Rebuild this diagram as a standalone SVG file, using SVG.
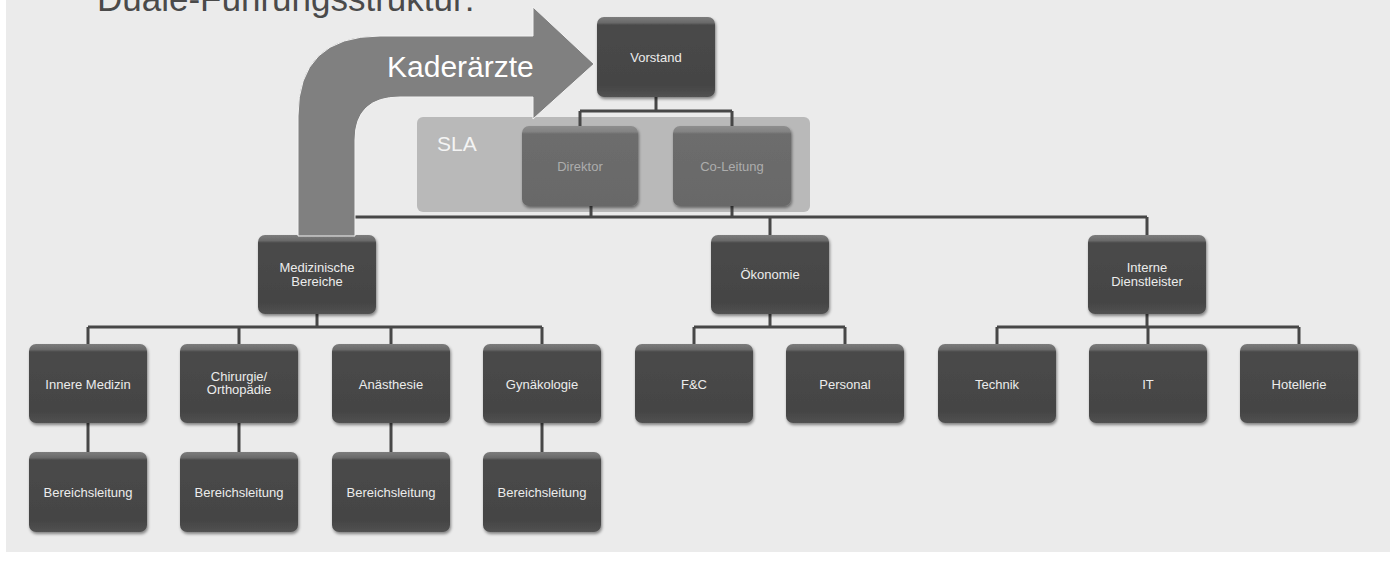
<svg xmlns="http://www.w3.org/2000/svg" width="1396" height="563" viewBox="0 0 1396 563">
<defs>
<linearGradient id="nodeFill" x1="0" y1="0" x2="0" y2="1">
<stop offset="0" stop-color="#7c7c7c"/>
<stop offset="0.07" stop-color="#6a6a6a"/>
<stop offset="0.1" stop-color="#4a4a4a"/>
<stop offset="0.85" stop-color="#444444"/>
<stop offset="1" stop-color="#525252"/>
</linearGradient>
<linearGradient id="slaFill" x1="0" y1="0" x2="0" y2="1">
<stop offset="0" stop-color="#8e8e8e"/>
<stop offset="0.07" stop-color="#838383"/>
<stop offset="0.1" stop-color="#6d6d6d"/>
<stop offset="1" stop-color="#686868"/>
</linearGradient>
<filter id="shadow" x="-10%" y="-10%" width="125%" height="130%">
<feDropShadow dx="1" dy="2" stdDeviation="1.5" flood-color="#000" flood-opacity="0.45"/>
</filter>
<style>
.node rect{fill:url(#nodeFill);filter:url(#shadow);}
.sla rect{fill:url(#slaFill);filter:url(#shadow);}
.node text,.sla text{font-family:"Liberation Sans",Arial,sans-serif;font-size:13px;text-anchor:middle;}
.node text{fill:#ececec;}
.sla text{fill:#adadad;}
.conn path{fill:none;stroke:#474747;stroke-width:3;}
</style>
</defs>
<rect x="0" y="0" width="1396" height="563" fill="#ffffff"/>
<rect x="6" y="0" width="1384" height="552" fill="#ebebeb"/>
<text x="97" y="11" font-family="Liberation Sans, Arial, sans-serif" font-size="35" fill="#4a4a4a">Duale-Führungsstruktur:</text>

<g id="sla-group">
<rect x="417" y="117" width="393" height="95" rx="6" fill="#b9b9b9"/>
<text x="437" y="151" font-family="Liberation Sans, Arial, sans-serif" font-size="21" fill="#f4f4f4">SLA</text>
</g>

<g id="connectors" class="conn">
<path d="M656,97 V111 M580,111 H732 M580,111 V126 M732,111 V126"/>
<path d="M591,206 V217 M732,206 V217"/>
<path d="M317,217 H1147 M317,217 V235 M770,217 V235 M1147,217 V235"/>
<path d="M317,314 V327 M88,327 H542 M88,327 V344 M239,327 V344 M391,327 V344 M542,327 V344"/>
<path d="M770,314 V327 M694,327 H845 M694,327 V344 M845,327 V344"/>
<path d="M1147,314 V327 M997,327 H1299 M997,327 V344 M1148,327 V344 M1299,327 V344"/>
<path d="M88,423 V452 M239,423 V452 M391,423 V452 M542,423 V452"/>
</g>

<g id="vorstand" class="node"><rect x="597" y="17" width="118" height="80" rx="7"/><text x="656" y="62">Vorstand</text></g>
<g id="direktor" class="sla"><rect x="522" y="126" width="116" height="80" rx="7"/><text x="580" y="171">Direktor</text></g>
<g id="co-leitung" class="sla"><rect x="673" y="126" width="118" height="80" rx="7"/><text x="732" y="171">Co-Leitung</text></g>

<g id="medizinische-bereiche" class="node"><rect x="258" y="235" width="118" height="79" rx="7"/><text x="317" y="272">Medizinische</text><text x="317" y="285.5">Bereiche</text></g>
<g id="oekonomie" class="node"><rect x="711" y="235" width="118" height="79" rx="7"/><text x="770" y="279">Ökonomie</text></g>
<g id="interne-dienstleister" class="node"><rect x="1088" y="235" width="118" height="79" rx="7"/><text x="1147" y="272">Interne</text><text x="1147" y="285.5">Dienstleister</text></g>

<g id="innere-medizin" class="node"><rect x="29" y="344" width="118" height="79" rx="7"/><text x="88" y="389">Innere Medizin</text></g>
<g id="chirurgie" class="node"><rect x="180" y="344" width="118" height="79" rx="7"/><text x="239" y="380.5">Chirurgie/</text><text x="239" y="394">Orthopädie</text></g>
<g id="anaesthesie" class="node"><rect x="332" y="344" width="118" height="79" rx="7"/><text x="391" y="389">Anästhesie</text></g>
<g id="gynaekologie" class="node"><rect x="483" y="344" width="118" height="79" rx="7"/><text x="542" y="389">Gynäkologie</text></g>
<g id="fc" class="node"><rect x="635" y="344" width="118" height="79" rx="7"/><text x="694" y="389">F&amp;C</text></g>
<g id="personal" class="node"><rect x="786" y="344" width="118" height="79" rx="7"/><text x="845" y="389">Personal</text></g>
<g id="technik" class="node"><rect x="938" y="344" width="118" height="79" rx="7"/><text x="997" y="389">Technik</text></g>
<g id="it" class="node"><rect x="1089" y="344" width="118" height="79" rx="7"/><text x="1148" y="389">IT</text></g>
<g id="hotellerie" class="node"><rect x="1240" y="344" width="118" height="79" rx="7"/><text x="1299" y="389">Hotellerie</text></g>

<g id="bl-innere" class="node"><rect x="29" y="452" width="118" height="80" rx="7"/><text x="88" y="497">Bereichsleitung</text></g>
<g id="bl-chirurgie" class="node"><rect x="180" y="452" width="118" height="80" rx="7"/><text x="239" y="497">Bereichsleitung</text></g>
<g id="bl-anaesthesie" class="node"><rect x="332" y="452" width="118" height="80" rx="7"/><text x="391" y="497">Bereichsleitung</text></g>
<g id="bl-gynaekologie" class="node"><rect x="483" y="452" width="118" height="80" rx="7"/><text x="542" y="497">Bereichsleitung</text></g>

<g id="kaderaerzte-arrow">
<path d="M298,236 L298,116 Q298,36 380,36 L533,36 L533,7 L594,64 L533,119 L533,97 L400,97 Q355,97 355,140 L355,236 Z" fill="#808080" stroke="#f2f2f2" stroke-width="1"/>
<text x="387" y="77" font-family="Liberation Sans, Arial, sans-serif" font-size="30" fill="#ffffff">Kaderärzte</text>
</g>
</svg>
